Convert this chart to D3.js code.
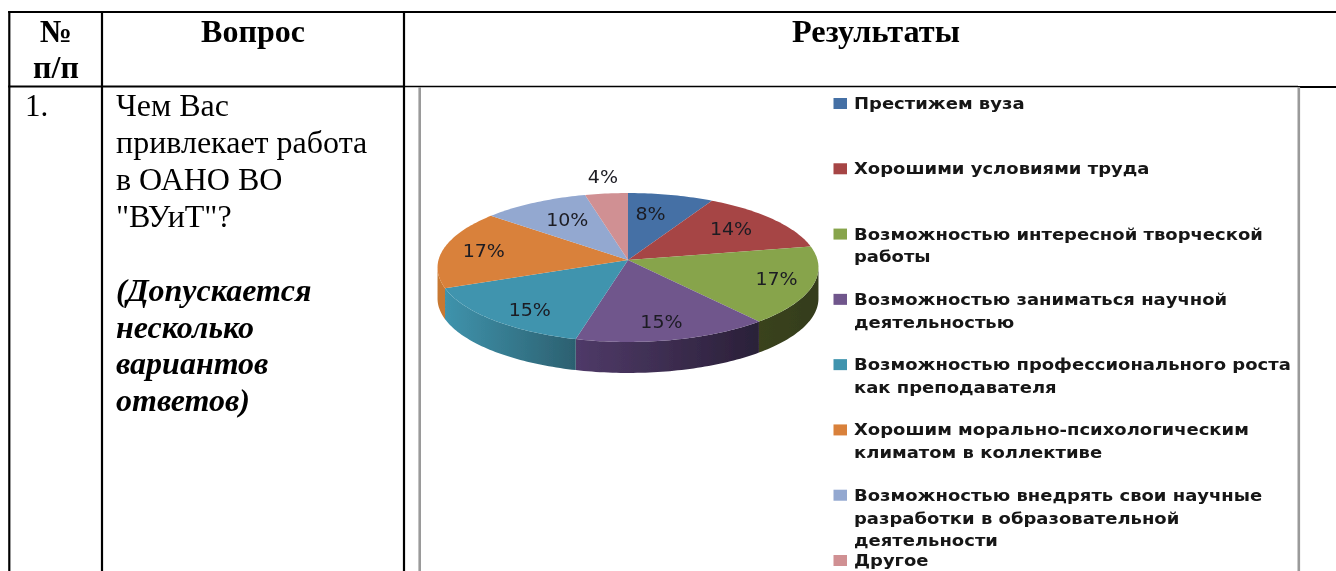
<!DOCTYPE html>
<html><head><meta charset="utf-8">
<script src="https://cdn.jsdelivr.net/npm/d3@7/dist/d3.min.js"></script>
<style>html,body{margin:0;padding:0;background:#fff;overflow:hidden}svg{display:block}</style>
</head><body><svg id="c" width="1336" height="571"></svg>
<script>
// DATA
const categories = ["Престижем вуза","Хорошими условиями труда","Возможностью интересной творческой работы","Возможностью заниматься научной деятельностью","Возможностью профессионального роста как преподавателя","Хорошим морально-психологическим климатом в коллективе","Возможностью внедрять свои научные разработки в образовательной деятельности","Другое"];
const legendLines = [["Престижем вуза"],["Хорошими условиями труда"],["Возможностью интересной творческой","работы"],["Возможностью заниматься научной","деятельностью"],["Возможностью профессионального роста","как преподавателя"],["Хорошим морально-психологическим","климатом в коллективе"],["Возможностью внедрять свои научные","разработки в образовательной","деятельности"],["Другое"]];
const values = [8,14,17,15,15,17,10,4];
const colors = ["#4470a5","#a64444","#87a44c","#70568c","#3f94ae","#d9813b","#93a8d0","#d09093"];
const wallLeft = ["#333","#333","#3a431f","#4f3a68","#3f93ac","#c87830","#333","#333"];
const wallRight = ["#333","#333","#343c1c","#2a2038","#2c6070","#c87830","#333","#333"];
const headers = ["№","Вопрос","Результаты"];
const questionLines = ["Чем Вас","привлекает работа","в ОАНО ВО","\"ВУиТ\"?"];
const noteLines = ["(Допускается","несколько","вариантов","ответов)"];

// LAYOUT
const W=1336,H=571;
const cx=628,cy=260,A=189.5,B=73.7,k=0.1007,depth=31;
const labelRadius=[.5,.7,.81,.75,.74,.78,.63,1.18];
const labelLift=[-12,-2,-2,3,6,0,-3,-6];
const svg=d3.select("#c");
const chart=svg.append("g").attr("filter","url(#soft)");
const defs=svg.append("defs");
defs.append("filter").attr("id","soft").attr("x","-5%").attr("y","-5%").attr("width","110%").attr("height","110%")
  .append("feGaussianBlur").attr("stdDeviation",0.45);

// perspective projection of a point on the unit disc (angle clockwise from 12 o'clock)
const project=(t,r=1)=>{const u=r*Math.sin(t),v=r*Math.cos(t),d=1+k*v;return [cx+A*u/d,cy-B*v/d];};
const line=d3.line();
const pie=d3.pie().sort(null).value(d=>d)(values);
const sample=(a,b)=>{const n=Math.max(2,Math.ceil((b-a)/0.02));return d3.range(n+1).map(i=>a+(b-a)*i/n);};

// table rules
const rules=[[8.2,12,1336,12,2.2],[9.3,11,9.3,571,2.2],[102,11,102,571,2.2],[404,11,404,571,2.2],[8.2,86.5,404,86.5,2.2],[404,86.5,1298,86.5,1.3],[1298,87,1336,87,2]];
svg.selectAll("line.rule").data(rules).join("line").attr("class","rule")
  .attr("x1",d=>d[0]).attr("y1",d=>d[1]).attr("x2",d=>d[2]).attr("y2",d=>d[3]).attr("stroke","#000").attr("stroke-width",d=>d[4]);
[419.7,1298.8].forEach(x=>{
  svg.append("rect").attr("x",x-1.3).attr("y",87).attr("width",2.6).attr("height",H-87).attr("fill","#9a9a9a");
});

// table text
const serif="'Liberation Serif',serif";
const tx=(x,y,s,size,o={})=>svg.append("text").attr("x",x).attr("y",y).text(s).attr("font-family",serif).attr("font-size",size)
  .attr("font-weight",o.b?"bold":"normal").attr("font-style",o.i?"italic":"normal").attr("text-anchor",o.a||"start").attr("fill","#000");
tx(56,42,headers[0],32,{b:1,a:"middle"});
tx(56,78,"п/п",32,{b:1,a:"middle"});
tx(253,42,headers[1],32,{b:1,a:"middle"});
tx(876,42,headers[2],32.3,{b:1,a:"middle"});
tx(25,116,"1.",31);
questionLines.forEach((s,i)=>tx(116,116+i*37,s,32));
noteLines.forEach((s,i)=>tx(116,301+i*36.7,s,32,{b:1,i:1}));

// 3D wall
const wallA=Math.acos(-k), wallB=2*Math.PI-wallA;
pie.forEach((p,i)=>{
  const a=Math.max(p.startAngle,wallA), b=Math.min(p.endAngle,wallB);
  if(b<=a) return;
  const top=sample(a,b).map(t=>project(t));
  const bottom=top.slice().reverse().map(q=>[q[0],q[1]+depth]);
  const id="wall"+i;
  const g=defs.append("linearGradient").attr("id",id).attr("gradientUnits","userSpaceOnUse")
    .attr("x1",d3.min(top,q=>q[0])).attr("x2",d3.max(top,q=>q[0])).attr("y1",0).attr("y2",0);
  g.append("stop").attr("offset",0).attr("stop-color",wallLeft[i]);
  g.append("stop").attr("offset",1).attr("stop-color",wallRight[i]);
  chart.append("path").attr("d",line(top.concat(bottom))+"Z").attr("fill",`url(#${id})`);
});
// top slices
chart.selectAll("path.slice").data(pie).join("path").attr("class","slice")
  .attr("d",p=>line([[cx,cy]].concat(sample(p.startAngle,p.endAngle).map(t=>project(t))))+"Z")
  .attr("fill",(p,i)=>colors[i]);
// data labels
chart.selectAll("text.pct").data(pie).join("text").attr("class","pct")
  .each(function(p,i){
    const q=project((p.startAngle+p.endAngle)/2,labelRadius[i]);
    d3.select(this).attr("transform",`translate(${q[0]},${q[1]+labelLift[i]}) scale(1.12,1)`);
  })
  .attr("text-anchor","middle").attr("dy","0.37em").attr("font-family","'DejaVu Sans',sans-serif").attr("font-size",17)
  .attr("fill","#1c1c24").text(p=>p.value+"%");

// legend
const legendY=d3.scaleLinear().domain([0,7]).range([109,566]);
const legendX=854,lineH=22.8;
const lg=chart.selectAll("g.leg").data(legendLines).join("g").attr("class","leg").attr("transform",(d,i)=>`translate(${legendX},${legendY(i)})`);
lg.append("rect").attr("x",-20.5).attr("y",-11).attr("width",13.5).attr("height",11).attr("fill",(d,i)=>colors[i]);
lg.selectAll("text").data(d=>d).join("text").attr("transform",(d,i)=>`translate(0,${i*lineH}) scale(1.125,1)`)
  .attr("font-family","'DejaVu Sans',sans-serif").attr("font-weight","bold").attr("font-size",16).attr("fill","#141414").text(d=>d);
</script></body></html>
